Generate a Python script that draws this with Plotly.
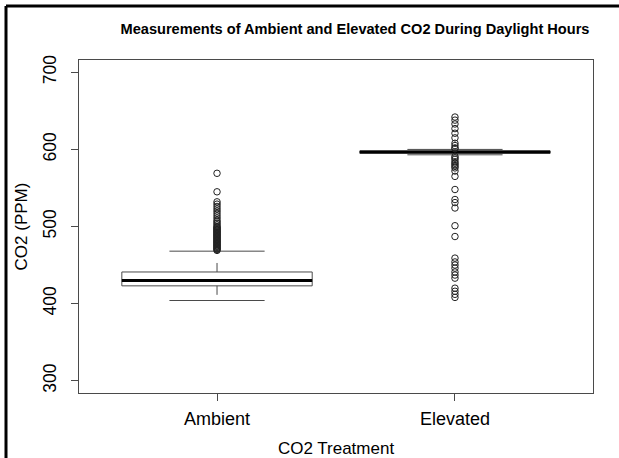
import plotly.graph_objects as go

# ---- data ----
groups = ["Ambient", "Elevated"]
positions = [1, 2]
q1 = [423, 595]
median = [430, 596.5]
q3 = [441, 598]
lower_whisker = [404, 593]
upper_whisker = [468, 600]

ambient_outliers = [469, 470, 471, 472, 473, 474, 475, 476, 477, 478, 479, 480,
                    481, 482, 483, 484, 485, 486, 487, 488, 489, 490, 491, 492,
                    493, 494, 495, 496, 497, 498, 499, 500, 502, 504, 506, 508,
                    511, 514, 517, 520, 523, 526, 529, 532, 545, 569]
elevated_outliers = [642, 638, 633, 627, 621, 615, 608, 605, 602, 601,
                     591, 589, 587, 584, 582, 580, 578, 576, 572, 565, 548, 535, 531, 524,
                     501, 487, 459, 454, 450, 446, 441, 437, 433,
                     420, 416, 412, 408]
outliers = [ambient_outliers, elevated_outliers]

yticks = [300, 400, 500, 600, 700]

BOX_HALF = 0.4
CAP_HALF = 0.2
LINE = "#4a4a4a"
FONT = "Liberation Sans, Arial, sans-serif"

fig = go.Figure()

for i, x in enumerate(positions):
    # box
    fig.add_trace(go.Scatter(
        x=[x - BOX_HALF, x + BOX_HALF, x + BOX_HALF, x - BOX_HALF, x - BOX_HALF],
        y=[q1[i], q1[i], q3[i], q3[i], q1[i]],
        mode="lines", line=dict(color=LINE, width=1), showlegend=False, hoverinfo="skip"))
    # dashed whiskers
    fig.add_trace(go.Scatter(
        x=[x, x, None, x, x],
        y=[q3[i], upper_whisker[i], None, q1[i], lower_whisker[i]],
        mode="lines", line=dict(color=LINE, width=1, dash="dash"), showlegend=False, hoverinfo="skip"))
    # staples
    fig.add_trace(go.Scatter(
        x=[x - CAP_HALF, x + CAP_HALF, None, x - CAP_HALF, x + CAP_HALF],
        y=[upper_whisker[i], upper_whisker[i], None, lower_whisker[i], lower_whisker[i]],
        mode="lines", line=dict(color=LINE, width=1), showlegend=False, hoverinfo="skip"))
    # median
    fig.add_trace(go.Scatter(
        x=[x - BOX_HALF, x + BOX_HALF], y=[median[i], median[i]],
        mode="lines", line=dict(color="black", width=3), showlegend=False, hoverinfo="skip"))
    # outliers
    fig.add_trace(go.Scatter(
        x=[x] * len(outliers[i]), y=outliers[i], mode="markers",
        marker=dict(symbol="circle-open", size=6.5, color="#222", line=dict(width=1)),
        showlegend=False, name=groups[i]))

fig.update_layout(
    width=619, height=458,
    margin=dict(l=79, r=26, t=60, b=65, autoexpand=False),
    paper_bgcolor="white", plot_bgcolor="white",
    font=dict(family=FONT, color="black"),
    title=dict(text="<b>Measurements of Ambient and Elevated CO2 During Daylight Hours</b>",
               x=(355 - 79) / 514, xref="paper", xanchor="center", y=1 - 29 / 458, yanchor="middle",
               font=dict(size=14.6, family=FONT, color="black")),
    xaxis=dict(range=[0.42, 2.58], tickvals=positions, ticktext=groups, automargin=False,
               showline=True, mirror=True, linecolor=LINE, linewidth=1,
               ticks="outside", ticklen=7, tickcolor=LINE, showgrid=False, zeroline=False,
               tickfont=dict(size=18), ticklabelstandoff=2,
               title=dict(text="CO2 Treatment", font=dict(size=17), standoff=20)),
    yaxis=dict(range=[284, 716], tickvals=yticks, tickangle=-90, automargin=False,
               showline=True, mirror=True, linecolor=LINE, linewidth=1,
               ticks="outside", ticklen=7, tickcolor=LINE, showgrid=False, zeroline=False,
               tickfont=dict(size=17.5), ticklabelstandoff=8,
               title=dict(text="CO2 (PPM)", font=dict(size=17), standoff=8)),
    shapes=[
        dict(type="line", xref="paper", yref="paper", x0=(6 - 79) / 514, x1=(619 - 79) / 514,
             y0=1 + (60 - 6) / 333, y1=1 + (60 - 6) / 333, line=dict(color="black", width=3)),
        dict(type="line", xref="paper", yref="paper", x0=(6 - 79) / 514, x1=(6 - 79) / 514,
             y0=1 + (60 - 6) / 333, y1=-(458 - 393) / 333, line=dict(color="black", width=3)),
    ],
)

fig.write_html("out.html", config={"displayModeBar": False},
               post_script="document.body.style.margin='0px';document.body.style.overflow='hidden';")
